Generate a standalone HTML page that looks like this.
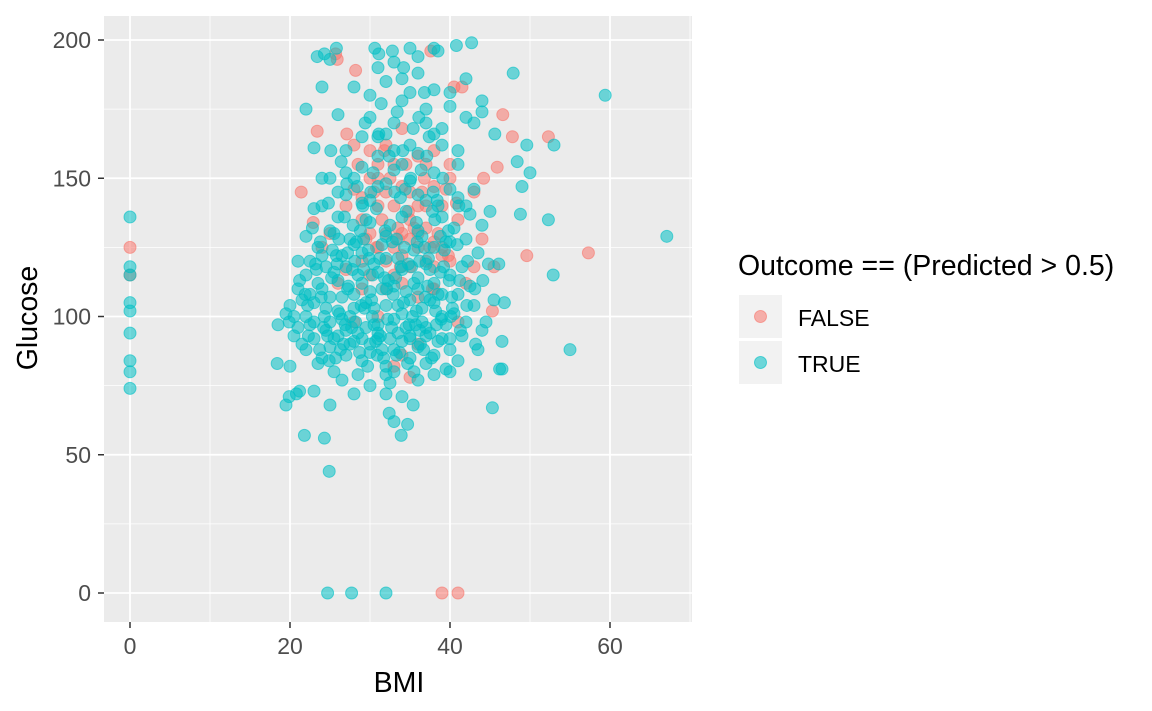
<!DOCTYPE html>
<html><head><meta charset="utf-8"><style>
body{margin:0;background:#fff;}
svg{display:block;font-family:"Liberation Sans",sans-serif;}
</style></head><body>
<svg id="chart" width="1152" height="711">
<rect x="104" y="16" width="588" height="606" fill="#EBEBEB"/>
<g id="grid"></g>
<g id="pts"></g>
<g id="axes"></g>
<text x="399" y="692" font-size="28.5" text-anchor="middle" fill="#000">BMI</text>
<text transform="translate(37,318) rotate(-90)" font-size="28.5" text-anchor="middle" fill="#000">Glucose</text>
<g>
<text x="738" y="275" font-size="28.5" fill="#000">Outcome == (Predicted &gt; 0.5)</text>
<rect x="739" y="295" width="43" height="43" fill="#F2F2F2"/>
<circle cx="760.5" cy="316.5" r="6" fill="#F8766D" fill-opacity="0.55" stroke="#F8766D" stroke-opacity="0.6"/>
<text x="798" y="326" font-size="23" fill="#000">FALSE</text>
<rect x="739" y="341" width="43" height="43" fill="#F2F2F2"/>
<circle cx="760.5" cy="362.5" r="6" fill="#00BFC4" fill-opacity="0.55" stroke="#00BFC4" stroke-opacity="0.6"/>
<text x="798" y="372" font-size="23" fill="#000">TRUE</text>
</g>
</svg>
<script>
const xTicks=[0,20,40,60];
const xMinor=[10,30,50,70];
const yTicks=[0,50,100,150,200];
const yMinor=[25,75,125,175];
const trueBMI=[0,0,0,0,0,0,0,0,0,24.7,27.7,32,59.4,67.1,55,52.3,52.9,53,50,49.6,48.8,49,48.4,47.9,46.5,46.2,45.3,46.1,45.6,43.2,24.9,24.3,21.8,25,19.5,19.9,20.8,21.2,23,18.4,20,32,33,33.9,34.7,35.4,32.4,25.5,26.5,25,25.8,23.4,24.3,30.6,31.1,38.5,40.8,42.7,35,38,
22,23,24,25,26,27,28,29,30,31,32,33,34,35,36,37,38,39,40,41,42,43,44,
22.5,23.5,24.5,25.5,26.5,27.5,28.5,29.5,30.5,31.5,32.5,33.5,34.5,35.5,36.5,37.5,38.5,39.5,40.5,41.5,42.5,43.5,
21,22,23,24,25,26,27,28,29,30,31,32,33,34,35,36,37,38,39,40,41,
20,21,22,23,24,25,26,27,28,29,30,31,32,33,34,35,36,37,38,39,40,
24,26,28,30,32,34,36,38,40,42,27,29,31,33,35,37,39,41,30,32,34,36,38,40,31,33,36,43,44,42,
18.5,19.5,20.5,21.5,22.5,23.5,24.5,25.5,26.5,27.5,28.5,29.5,30.5,31.5,32.5,33.5,34.5,35.5,36.5,37.5,38.5,39.5,40.5,41.5,42.5,43.5,44.5,45.5,46.5,
21,22,23,24,25,26,27,28,29,30,31,32,33,34,35,36,37,38,39,40,41,42,43,44,45,
26,28,30,32,34,36,38,40,42,44,35,37,39,41,29,27,25,23,22,24,31,33,
28,30,32,34,36,38,40,29,31,33,35,37,30.3,33.3,35.8,29.2,27.2,36.2,38.8,42.2,44.8,46.8,41.2,43.2,
20.5,21.5,22.5,23.5,24.5,25.5,26.5,27.5,28.5,29.5,30.5,31.5,32.5,33.5,34.5,35.5,36.5,37.5,38.5,39.5,
21.2,22.2,23.2,24.2,25.2,26.2,27.2,28.2,29.2,30.2,31.2,32.2,33.2,34.2,35.2,36.2,37.2,38.2,39.2,40.2,
22.8,23.8,24.8,25.8,26.8,27.8,28.8,29.8,30.8,31.8,32.8,33.8,34.8,35.8,36.8,37.8,38.8,39.8,
23.7,24.7,25.7,26.7,27.7,28.7,29.7,30.7,31.7,32.7,33.7,34.7,35.7,36.7,37.7,
26.4,28.4,30.4,32.4,34.4,36.4,38.4,33.4,35.4,31.4,37.4,29.4,34.2,36.8,32.8,
22.3,23.3,24.3,25.3,26.3,27.3,28.3,29.3,30.3,31.3,32.3,33.3,34.3,35.3,36.3,37.3,38.3,39.3,40.3,41.3,
23.9,24.9,25.9,26.9,27.9,28.9,29.9,30.9,31.9,32.9,33.9,34.9,35.9,36.9,37.9,38.9,39.9,40.9,19.9,21.9,
25.1,27.1,29.1,31.1,33.1,35.1,37.1,39.1,41.1,43.1,26.1,28.1,30.1,32.1,34.1,36.1,38.1,40.1,42.1,44.1];
const trueGlucose=[136,118,115,105,102,94,84,80,74,0,0,0,180,129,88,135,115,162,152,162,137,147,156,188,81,81,67,119,166,79,44,56,57,68,68,71,72,73,73,83,82,72,62,57,61,68,65,80,77,193,197,194,195,197,195,196,198,199,197,197,
100,105,110,98,102,95,108,112,90,97,104,99,101,93,110,96,105,100,92,108,98,104,95,
120,125,118,130,122,128,115,135,119,126,133,121,138,124,129,117,140,127,132,118,137,123,
96,88,92,85,89,93,86,91,84,87,94,82,88,91,85,89,83,86,92,88,84,
104,110,115,98,122,107,113,118,103,123,109,116,121,111,117,106,114,119,112,108,115,
140,145,150,142,148,155,144,152,146,140,160,165,158,170,162,175,168,160,180,185,178,188,182,176,190,192,194,170,178,186,
97,101,93,90,108,83,95,116,99,90,79,96,103,88,76,94,109,80,98,106,91,81,101,93,111,88,98,106,91,
120,129,139,150,131,136,144,126,141,134,147,129,153,136,149,131,142,125,136,127,143,128,146,133,138,
173,183,172,166,186,159,166,181,172,174,181,170,162,155,154,152,150,161,175,183,165,160,
72,75,79,71,77,79,80,92,92,80,92,93,100,128,102,128,110,120,129,120,119,105,113,90,
100,106,97,112,103,92,107,100,94,105,97,110,92,104,96,112,103,94,108,97,
113,104,119,96,114,101,123,98,117,106,121,99,114,105,118,95,111,102,118,107,
132,127,141,122,136,117,131,124,139,114,127,143,119,134,125,138,116,131,
88,93,85,90,96,87,82,91,85,96,87,83,97,88,85,
156,147,152,158,146,153,142,174,168,177,165,170,190,181,196,
93,117,100,124,88,111,127,103,115,93,113,86,125,100,90,121,97,124,103,95,
107,84,119,97,133,104,121,86,131,108,118,97,127,107,145,99,113,126,98,108,
160,148,140,166,145,150,158,150,140,110,128,120,145,110,160,172,135,100,104,113];
const falseBMI=[0,0,39,41,57.3,49.6,52.3,47.8,46.6,45.9,45.5,45.3,44.2,41.5,40.5,23.4,25.9,25.7,21.4,28.2,37.6,27.1,28,22.9,33.5,
25,27,28,29,30,31,32,33,34,35,36,37,38,39,40,41,42,43,44,30,32,34,36,38,40,29,31,33,35,37,39,41,43,33,35,34,36,26,28,30,32,24,27,31,38,29,34,36,
31,32,33,34,35,36,37,38,39,40,30,31,33,35,36,37,32,34,38,29,
30.5,31.5,32.5,33.5,34.5,35.5,36.5,37.5,38.5,39.5,28.5,29.5,33.8,36.8,39.8,34.8,31.8,30.8,37.8,40.8];
const falseGlucose=[125,115,0,0,123,122,165,165,173,154,118,102,150,183,183,167,193,195,145,189,196,166,162,134,132,
130,140,146,120,150,155,145,125,147,118,130,140,127,122,150,135,112,145,128,160,162,168,158,147,155,110,100,115,128,120,125,98,118,82,78,86,90,112,98,130,130,125,117,140,160,143,130,107,
125,120,140,122,135,125,132,118,140,120,115,150,155,145,140,155,110,112,110,135,
145,135,150,128,155,132,145,125,130,146,155,128,118,150,122,138,160,125,110,141];

const NS="http://www.w3.org/2000/svg";
const xs=v=>130+v*8;
const ys=v=>593-v*2.765;
const grid=document.getElementById('grid'),axes=document.getElementById('axes'),pts=document.getElementById('pts');
function mk(tag,attrs,parent){const e=document.createElementNS(NS,tag);for(const k in attrs)e.setAttribute(k,attrs[k]);parent.appendChild(e);return e;}
xMinor.forEach(v=>{const l=mk('line',{x1:xs(v),x2:xs(v),y1:16,y2:622,stroke:'#fff','stroke-width':0.8},grid);

});
yMinor.forEach(v=>{const l=mk('line',{x1:104,x2:692,y1:ys(v),y2:ys(v),stroke:'#fff','stroke-width':0.8},grid);

});
xTicks.forEach(v=>{const l=mk('line',{x1:xs(v),x2:xs(v),y1:16,y2:622,stroke:'#fff','stroke-width':1.8},grid);


const t=mk('line',{x1:xs(v),x2:xs(v),y1:622,y2:628,stroke:'#333','stroke-width':1.5},axes);


const tx=mk('text',{x:xs(v),y:654,'font-size':23,'text-anchor':'middle',fill:'#4D4D4D'},axes);tx.textContent=v;

});
yTicks.forEach(v=>{const l=mk('line',{x1:104,x2:692,y1:ys(v),y2:ys(v),stroke:'#fff','stroke-width':1.8},grid);


const t=mk('line',{x1:98,x2:104,y1:ys(v),y2:ys(v),stroke:'#333','stroke-width':1.5},axes);


const tx=mk('text',{x:91,y:ys(v)+8,'font-size':23,'text-anchor':'end',fill:'#4D4D4D'},axes);tx.textContent=v;

});
function drawSeries(bx,gy,col,name){for(let i=0;i<bx.length;i++){
const c=mk('circle',{cx:xs(bx[i]),cy:ys(gy[i]),r:6,fill:col,'fill-opacity':0.55,stroke:col,'stroke-opacity':0.6},pts);

}}
drawSeries(falseBMI,falseGlucose,'#F8766D','point-false');
drawSeries(trueBMI,trueGlucose,'#00BFC4','point-true');
</script>
</body></html>
